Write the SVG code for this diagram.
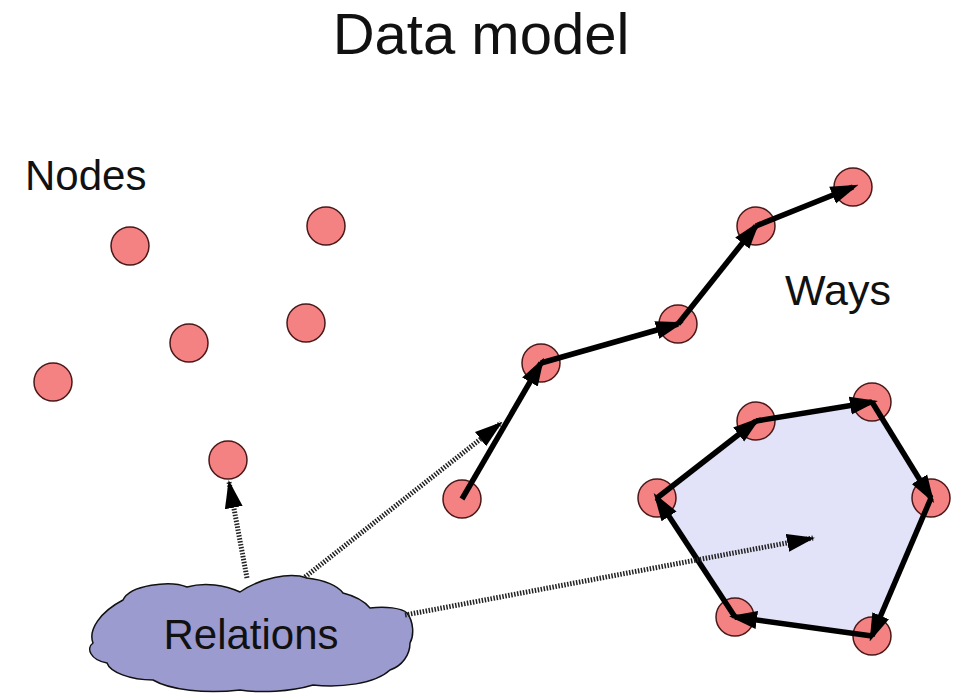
<svg xmlns="http://www.w3.org/2000/svg" width="961" height="693" viewBox="0 0 961 693">
<style>
.node{fill:#f58282;stroke:#4a1818;stroke-width:1.5}
.way{stroke:#000;stroke-width:5.5;fill:none;marker-end:url(#ah)}
.dot{stroke:#222;stroke-width:5;stroke-dasharray:1.5,1.5;fill:none;marker-end:url(#ah2)}
.lbl{font-family:"Liberation Sans",Arial,sans-serif;fill:#111}
</style>
<defs>
<marker id="ah" markerUnits="userSpaceOnUse" markerWidth="28" markerHeight="20" refX="22" refY="9" orient="auto" viewBox="0 0 28 18">
<path d="M0,0 L28,9 L0,18 Z" fill="#000"/>
</marker>
<marker id="ah2" markerUnits="userSpaceOnUse" markerWidth="28" markerHeight="20" refX="26" refY="9" orient="auto" viewBox="0 0 28 18">
<path d="M0,0 L28,9 L0,18 Z" fill="#000"/>
</marker>
</defs>
<rect width="961" height="693" fill="#fff"/>
<text class="lbl" x="481" y="54" font-size="58" text-anchor="middle">Data model</text>
<text class="lbl" x="25" y="190" font-size="42">Nodes</text>
<text class="lbl" x="785" y="305" font-size="43">Ways</text>

<g id="area">
<polygon points="657,498 756,421 872,402 931,498 872,636 735,617" fill="#e2e2f8"/>
</g>

<g id="nodes">
<circle id="n1" class="node" cx="130" cy="246" r="19"/>
<circle id="n2" class="node" cx="326" cy="226" r="19"/>
<circle id="n3" class="node" cx="189" cy="343" r="19"/>
<circle id="n4" class="node" cx="306" cy="323" r="19"/>
<circle id="n5" class="node" cx="53" cy="382" r="19"/>
<circle id="n6" class="node" cx="228" cy="460" r="19"/>
<circle id="w1" class="node" cx="462" cy="499" r="19"/>
<circle id="w2" class="node" cx="541" cy="363" r="19"/>
<circle id="w3" class="node" cx="678" cy="324" r="19"/>
<circle id="w4" class="node" cx="756" cy="226" r="19"/>
<circle id="w5" class="node" cx="853" cy="187" r="19"/>
<circle id="p1" class="node" cx="657" cy="498" r="19"/>
<circle id="p2" class="node" cx="756" cy="421" r="19"/>
<circle id="p3" class="node" cx="872" cy="402" r="19"/>
<circle id="p4" class="node" cx="931" cy="498" r="19"/>
<circle id="p5" class="node" cx="872" cy="636" r="19"/>
<circle id="p6" class="node" cx="735" cy="617" r="19"/>
</g>

<g id="relations">
<path d="M123,600 C130,585 170,580 187,587 C205,582 225,585 240,592 C260,578 290,572 307,578 C325,580 338,586 343,593 C355,596 365,602 370,608 C385,606 402,608 407,613 C414,622 414,636 410,643 C410,655 402,666 390,670 C375,684 340,688 313,685 C290,692 260,693 240,690 C205,694 170,690 153,680 C130,680 110,672 107,663 C90,660 86,648 93,643 C88,630 100,612 123,600 Z" fill="#9b9bd0" stroke="#111" stroke-width="1.5"/>
<text class="lbl" x="251" y="649" font-size="42" text-anchor="middle" fill="#0a0a30">Relations</text>
</g>

<g id="connectors">
<line class="way" x1="462" y1="499" x2="541" y2="363"/>
<line class="way" x1="541" y1="363" x2="678" y2="324"/>
<line class="way" x1="678" y1="324" x2="756" y2="226"/>
<line class="way" x1="756" y1="226" x2="853" y2="187"/>
<line class="way" x1="657" y1="498" x2="756" y2="421"/>
<line class="way" x1="756" y1="421" x2="872" y2="402"/>
<line class="way" x1="872" y1="402" x2="931" y2="498"/>
<line class="way" x1="931" y1="498" x2="872" y2="636"/>
<line class="way" x1="872" y1="636" x2="735" y2="617"/>
<line class="way" x1="735" y1="617" x2="657" y2="498"/>
<line class="dot" x1="247" y1="578" x2="229" y2="482"/>
<line class="dot" x1="305" y1="577" x2="501" y2="423"/>
<line class="dot" x1="405" y1="615" x2="813" y2="538"/>
</g>
</svg>
